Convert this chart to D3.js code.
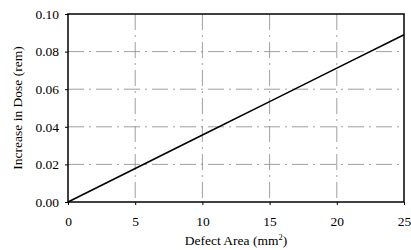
<!DOCTYPE html>
<html>
<head>
<meta charset="utf-8">
<script src="https://cdn.jsdelivr.net/npm/d3@7"></script>
<style>
  body { margin: 0; background: #fff; }
  text { font-family: "Liberation Serif", "DejaVu Serif", serif; fill: #000; }
</style>
</head>
<body>
<script>
const area = [0, 5, 10, 15, 20, 25];
const dose = [0, 0.0178, 0.0356, 0.0534, 0.0712, 0.089];
const xTicks = [0, 5, 10, 15, 20, 25];
const yTicks = [0, 0.02, 0.04, 0.06, 0.08, 0.10];

const width = 411, height = 250;
const margin = {left: 68, right: 7, top: 14, bottom: 48};
const chartWidth = width - margin.left - margin.right;
const chartHeight = height - margin.top - margin.bottom;

const svg = d3.select("body")
    .append("svg")
      .attr("width", width)
      .attr("height", height);

const g = svg.append("g")
    .attr("transform", "translate(" + margin.left + "," + margin.top + ")");

const xScale = d3.scaleLinear().domain([0, 25]).range([0, chartWidth]);
const yScale = d3.scaleLinear().domain([0, 0.1]).range([chartHeight, 0]);

// dash-dot grid
g.append("g")
    .selectAll("line")
    .data(yTicks.slice(1, -1))
    .enter()
    .append("line")
      .attr("x1", 0)
      .attr("x2", chartWidth)
      .attr("y1", d => yScale(d))
      .attr("y2", d => yScale(d))
      .attr("stroke", "#888")
      .attr("stroke-width", 0.8)
      .attr("stroke-dasharray", "16,5,2,5");

g.append("g")
    .selectAll("line")
    .data(xTicks.slice(1, -1))
    .enter()
    .append("line")
      .attr("x1", d => xScale(d))
      .attr("x2", d => xScale(d))
      .attr("y1", 0)
      .attr("y2", chartHeight)
      .attr("stroke", "#888")
      .attr("stroke-width", 0.8)
      .attr("stroke-dasharray", "16,5,2,5");

// plot frame
g.append("rect")
    .attr("x", 0)
    .attr("y", 0)
    .attr("width", chartWidth)
    .attr("height", chartHeight)
    .attr("fill", "none")
    .attr("stroke", "#000")
    .attr("stroke-width", 1.5);

// axes
const xAxis = g.append("g")
    .attr("transform", "translate(0," + chartHeight + ")")
    .call(d3.axisBottom(xScale).tickValues(xTicks).tickSize(3).tickPadding(11).tickFormat(d3.format("d")));
const yAxis = g.append("g")
    .call(d3.axisLeft(yScale).tickValues(yTicks).tickSize(3).tickPadding(6).tickFormat(d3.format(".2f")));

[xAxis, yAxis].forEach(a => {
  a.select(".domain").remove();
  a.selectAll("line").attr("stroke", "#000");
  a.selectAll("text")
      .style("font-family", "'Liberation Serif', serif")
      .style("font-size", "13.5px")
      .attr("fill", "#000");
});

// data line
const line = d3.line()
    .x((d, i) => xScale(area[i]))
    .y(d => yScale(d));

g.append("path")
    .datum(dose)
    .attr("d", line)
    .attr("fill", "none")
    .attr("stroke", "#000")
    .attr("stroke-width", 1.6);

// axis labels
const xLabel = svg.append("text")
    .attr("x", margin.left + chartWidth / 2)
    .attr("y", 245)
    .attr("text-anchor", "middle")
    .style("font-size", "13.5px");
xLabel.append("tspan").text("Defect Area (mm");
xLabel.append("tspan").attr("dy", -5).style("font-size", "8.5px").text("2");
xLabel.append("tspan").attr("dy", 5).text(")");

svg.append("text")
    .attr("transform", "translate(22," + (margin.top + chartHeight / 2) + ") rotate(-90)")
    .attr("text-anchor", "middle")
    .style("font-size", "13.5px")
    .text("Increase in Dose (rem)");
</script>
</body>
</html>
